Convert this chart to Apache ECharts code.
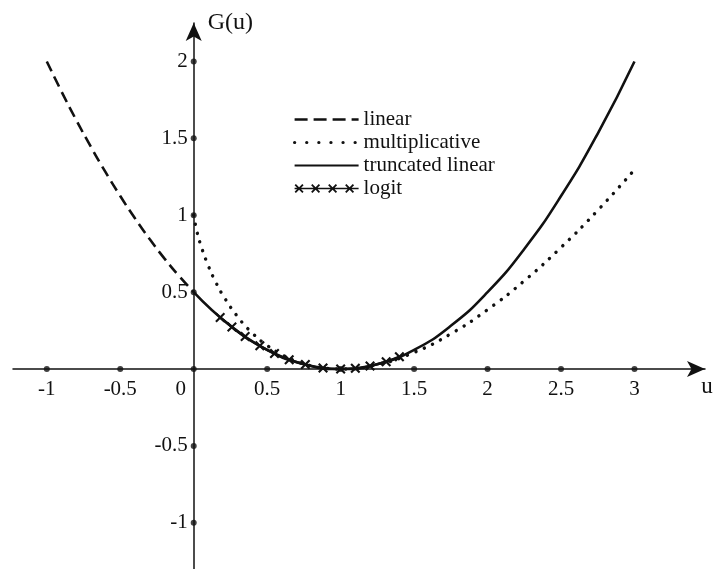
<!DOCTYPE html>
<html>
<head>
<meta charset="utf-8">
<style>
  html, body { margin: 0; padding: 0; background: #fff; }
  #chart { width: 718px; height: 569px; }
</style>
<script src="https://cdn.jsdelivr.net/npm/echarts@6/dist/echarts.min.js"></script>
</head>
<body>
<div id="chart"></div>
<script>
// values
var linearU = [-1, -0.9, -0.8, -0.7, -0.6, -0.5, -0.4, -0.3, -0.2, -0.1, 0]
var linearG = [2.0, 1.805, 1.62, 1.445, 1.28, 1.125, 0.98, 0.845, 0.72, 0.605, 0.5]

var multU = [0, 0.02, 0.05, 0.1, 0.15, 0.2, 0.3, 0.4, 0.5, 0.6, 0.7, 0.8, 0.9, 1, 1.25, 1.5, 1.75, 2, 2.25, 2.5, 2.75, 3]
var multG = [1, 0.902, 0.8, 0.67, 0.565, 0.478, 0.339, 0.233, 0.153, 0.094, 0.05, 0.021, 0.005, 0, 0.029, 0.108, 0.229, 0.386, 0.574, 0.791, 1.032, 1.296]

var truncU = [0, 0.25, 0.5, 0.75, 1, 1.25, 1.5, 1.75, 2, 2.25, 2.5, 2.75, 3]
var truncG = [0.5, 0.281, 0.125, 0.031, 0, 0.031, 0.125, 0.281, 0.5, 0.781, 1.125, 1.531, 2.0]

var logitU = [0.18, 0.26, 0.35, 0.45, 0.55, 0.65, 0.76, 0.88, 1.0, 1.1, 1.2, 1.31, 1.4]
var logitG = [0.336, 0.274, 0.211, 0.151, 0.101, 0.061, 0.029, 0.007, 0, 0.005, 0.02, 0.048, 0.08]

var xTicks = [-1, -0.5, 0, 0.5, 1, 1.5, 2, 2.5, 3]
var yTicks = [-1, -0.5, 0.5, 1, 1.5, 2]

function pairs(xs, ys) {
  return xs.map(function (x, i) { return [x, ys[i]] })
}

// filled "x" shape centred on cx,cy
function xShape(cx, cy, h, t) {
  var p = [
    [cx - h, cy - h + t], [cx - h + t, cy - h], [cx, cy - t], [cx + h - t, cy - h],
    [cx + h, cy - h + t], [cx + t, cy], [cx + h, cy + h - t], [cx + h - t, cy + h],
    [cx, cy + t], [cx - h + t, cy + h], [cx - h, cy + h - t], [cx - t, cy]
  ]
  return 'M' + p.map(function (q) { return q[0] + ',' + q[1] }).join('L') + 'Z'
}

var font = 'Liberation Serif'
var cross = 'path://' + xShape(5, 5, 5, 1.5)
var logitIcon = 'path://M0,5.3L64,5.3L64,6.7L0,6.7Z' +
  xShape(4.5, 6, 4.5, 1.3) + xShape(21, 6, 4.5, 1.3) + xShape(38, 6, 4.5, 1.3) + xShape(55, 6, 4.5, 1.3)

var xMin = -1.23, xMax = 3.48, yMin = -1.3, yMax = 2.25
var W = 718, H = 569, gl = 13, gr = 13, gt = 23, gb = 0
// pixel place of the zero lines inside the grid, used to park the axes there
var zeroX = (0 - xMin) / (xMax - xMin) * (W - gl - gr)
var zeroY = (yMax - 0) / (yMax - yMin) * (H - gt - gb)

var chart = echarts.init(document.getElementById('chart'))

chart.setOption({
  animation: false,
  backgroundColor: '#fff',
  color: ['#111'],
  grid: { left: gl, right: gr, top: gt, bottom: gb, containLabel: false, outerBoundsMode: 'none' },
  legend: {
    orient: 'vertical',
    left: 288,
    top: 104,
    itemWidth: 64,
    itemHeight: 12,
    itemGap: 2,
    data: [
      { name: 'linear', itemStyle: { opacity: 0 }, lineStyle: { width: 2.6, type: [13, 6] } },
      { name: 'multiplicative', itemStyle: { opacity: 0 }, lineStyle: { width: 3.2, type: [0.1, 12], cap: 'round' } },
      { name: 'truncated linear', itemStyle: { opacity: 0 } },
      { name: 'logit', icon: logitIcon }
    ],
    textStyle: { fontFamily: font, fontSize: 21, color: '#111' }
  },
  xAxis: {
    type: 'value',
    min: xMin,
    max: xMax,
    position: 'bottom',
    offset: -(H - gt - gb - zeroY),
    name: 'u',
    nameLocation: 'end',
    nameGap: 2,
    nameTextStyle: { fontFamily: font, fontSize: 23, color: '#111', align: 'center', verticalAlign: 'top', padding: [6, 0, 0, 0] },
    axisLine: { onZero: false, symbol: ['none', 'arrow'], symbolSize: [12, 18], lineStyle: { color: '#111', width: 1.5 } },
    axisTick: { show: false },
    splitLine: { show: false },
    axisLabel: {
      customValues: xTicks,
      margin: 10,
      fontFamily: font,
      fontSize: 21,
      color: '#111',
      formatter: function (v) { return v === 0 ? '{z|0}' : String(v) },
      rich: { z: { fontFamily: font, fontSize: 21, color: '#111', padding: [0, 26, 0, 0] } }
    }
  },
  yAxis: {
    type: 'value',
    min: yMin,
    max: yMax,
    position: 'left',
    offset: -zeroX,
    name: 'G(u)',
    nameLocation: 'end',
    nameGap: 0,
    nameTextStyle: { fontFamily: font, fontSize: 24, color: '#111', align: 'left', verticalAlign: 'middle', padding: [0, 0, 0, 14] },
    axisLine: { onZero: false, symbol: ['none', 'arrow'], symbolSize: [12, 18], lineStyle: { color: '#111', width: 1.5 } },
    axisTick: { show: false },
    splitLine: { show: false },
    axisLabel: {
      customValues: yTicks,
      margin: 6,
      fontFamily: font,
      fontSize: 21,
      color: '#111'
    }
  },
  series: [
    {
      name: 'linear',
      type: 'line',
      data: pairs(linearU, linearG),
      symbol: 'none',
      smooth: true,
      lineStyle: { color: '#111', width: 2.6, type: [11, 6] },
      z: 3
    },
    {
      name: 'multiplicative',
      type: 'line',
      data: pairs(multU, multG),
      symbol: 'none',
      smooth: true,
      lineStyle: { color: '#111', width: 3.4, type: [0.1, 9], cap: 'round' },
      z: 3
    },
    {
      name: 'truncated linear',
      type: 'line',
      data: pairs(truncU, truncG),
      symbol: 'none',
      smooth: true,
      lineStyle: { color: '#111', width: 2.6 },
      z: 4
    },
    {
      name: 'logit',
      type: 'line',
      data: pairs(logitU, logitG),
      symbol: cross,
      symbolSize: 10,
      showAllSymbol: true,
      smooth: true,
      itemStyle: { color: '#111' },
      lineStyle: { color: '#111', width: 2.6 },
      z: 5
    },
    {
      name: 'xticks',
      type: 'scatter',
      data: xTicks.map(function (v) { return [v, 0] }),
      symbolSize: 6,
      itemStyle: { color: '#111' },
      silent: true,
      z: 6
    },
    {
      name: 'yticks',
      type: 'scatter',
      data: yTicks.map(function (v) { return [0, v] }),
      symbolSize: 6,
      itemStyle: { color: '#111' },
      silent: true,
      z: 6
    }
  ]
})
</script>
</body>
</html>
